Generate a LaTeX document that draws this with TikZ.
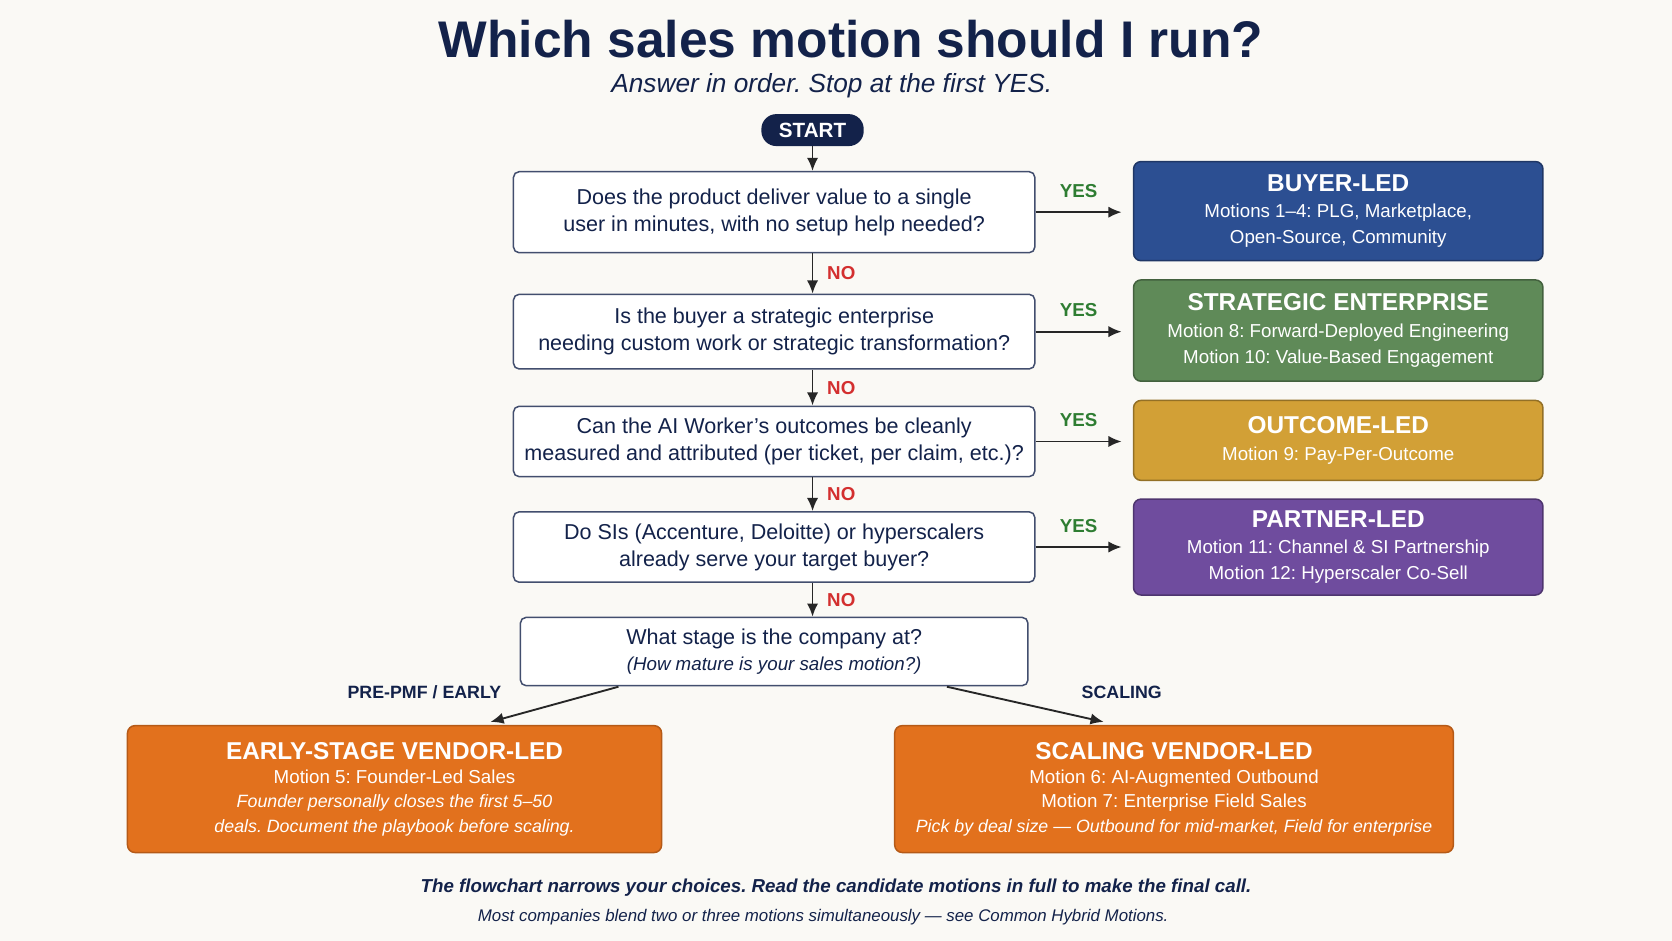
\documentclass[tikz,border=0pt]{standalone}
\usepackage{fontspec}
\setmainfont{Liberation Sans}
\usetikzlibrary{calc,positioning,arrows.meta}
\frenchspacing
\definecolor{navy}{HTML}{13224A}
\definecolor{bg}{HTML}{FAF9F5}
\definecolor{buyer}{HTML}{2C4F92}
\definecolor{strat}{HTML}{5F8A58}
\definecolor{outc}{HTML}{D2A036}
\definecolor{partner}{HTML}{6F4C9E}
\definecolor{vendor}{HTML}{E2711D}
\definecolor{yesgreen}{HTML}{2E7D32}
\definecolor{nored}{HTML}{D32F2F}
\newcommand{\rtitlefont}{\bfseries\fontsize{13}{16}\selectfont}
\tikzset{
  question/.style={draw=navy!80, thick, fill=white, rounded corners=3pt, align=center,
    minimum width=9.78cm, text=navy, font=\fontsize{11.5}{14.5}\selectfont},
  result/.style={draw=#1!70!black, thick, fill=#1, rounded corners=4pt, align=center,
    minimum width=7.68cm, text=white, font=\fontsize{10}{14}\selectfont},
  vendorbox/.style={draw=vendor!80!black, thick, fill=vendor, rounded corners=4pt, align=center,
    minimum height=2.38cm, text=white, font=\fontsize{10}{13}\selectfont},
  yes/.style={text=yesgreen, font=\bfseries\fontsize{10}{12}\selectfont},
  no/.style={text=nored, font=\bfseries\fontsize{10}{12}\selectfont},
  arr/.style={-{Latex[length=7pt,width=6pt]}, line width=1pt, black!85}
}
\begin{document}
\begin{tikzpicture}[x=0.02cm, y=-0.02cm]
        \fill[bg] (0,0) rectangle (1568,882);

        \node[text=navy, font=\bfseries\fontsize{27.5}{32}\selectfont] (title) at (798,37) {Which sales motion should I run?};
        \node[text=navy, font=\itshape\fontsize{14}{17}\selectfont] (sub) at (780,80) {Answer in order. Stop at the first YES.};

        \node[fill=navy, text=white, rounded corners=8pt, minimum width=1.92cm, minimum height=0.6cm,
              font=\bfseries\fontsize{11}{13}\selectfont] (start) at (762,122) {START};

        % questions
        \node[question, minimum height=1.52cm] (q1) at (726,199) {Does the product deliver value to a single\\ user in minutes, with no setup help needed?};
        \node[question, minimum height=1.4cm] (q2) at (726,311) {Is the buyer a strategic enterprise\\ needing custom work or strategic transformation?};
        \node[question, minimum height=1.32cm] (q3) at (726,414) {Can the AI Worker’s outcomes be cleanly\\ measured and attributed (per ticket, per claim, etc.)?};
        \node[question, minimum height=1.32cm] (q4) at (726,513) {Do SIs (Accenture, Deloitte) or hyperscalers\\ already serve your target buyer?};
        \node[question, minimum width=9.52cm, minimum height=1.28cm] (q5) at (726,611) {What stage is the company at?\\[-1pt] {\itshape\fontsize{10}{12}\selectfont (How mature is your sales motion?)}};

        % results
        \node[result=buyer, minimum height=1.86cm] (r1) at (1255,198) {{\rtitlefont BUYER-LED}\\ Motions 1–4: PLG, Marketplace,\\ Open-Source, Community};
        \node[result=strat, minimum height=1.9cm] (r2) at (1255,310) {{\rtitlefont STRATEGIC ENTERPRISE}\\ Motion 8: Forward-Deployed Engineering\\ Motion 10: Value-Based Engagement};
        \node[result=outc, minimum height=1.5cm] (r3) at (1255,413) {{\rtitlefont OUTCOME-LED}\\ Motion 9: Pay-Per-Outcome};
        \node[result=partner, minimum height=1.8cm] (r4) at (1255,513) {{\rtitlefont PARTNER-LED}\\ Motion 11: Channel \& SI Partnership\\ Motion 12: Hyperscaler Co-Sell};

        \node[vendorbox, minimum width=10.02cm] (e1) at (370,740) {{\rtitlefont EARLY-STAGE VENDOR-LED}\\ Motion 5: Founder-Led Sales\\ {\itshape\fontsize{9.5}{13}\selectfont Founder personally closes the first 5–50}\\ {\itshape\fontsize{9.5}{13}\selectfont deals. Document the playbook before scaling.}};
        \node[vendorbox, minimum width=10.48cm] (e2) at (1101,740) {{\rtitlefont SCALING VENDOR-LED}\\ Motion 6: AI-Augmented Outbound\\ Motion 7: Enterprise Field Sales\\ {\itshape\fontsize{9.5}{13}\selectfont Pick by deal size — Outbound for mid-market, Field for enterprise}};

        % spine
        \draw[arr] (start) -- (q1.north -| start);
        \draw[arr] (q1.south -| start) -- node[no, right=4pt] {NO} (q2.north -| start);
        \draw[arr] (q2.south -| start) -- node[no, right=4pt] {NO} (q3.north -| start);
        \draw[arr] (q3.south -| start) -- node[no, right=4pt] {NO} (q4.north -| start);
        \draw[arr] (q4.south -| start) -- node[no, right=4pt] {NO} (q5.north -| start);

        % yes branches
        \draw[arr] (q1.east) -- node[yes, above=4pt] {YES} ([xshift=-6]r1.west |- q1.east);
        \draw[arr] (q2.east) -- node[yes, above=4pt] {YES} ([xshift=-6]r2.west |- q2.east);
        \draw[arr] (q3.east) -- node[yes, above=4pt] {YES} ([xshift=-6]r3.west |- q3.east);
        \draw[arr] (q4.east) -- node[yes, above=4pt] {YES} ([xshift=-6]r4.west |- q4.east);

        % stage split
        \coordinate (sl) at (580,644);
        \coordinate (sr) at (888,644);
        \coordinate (el) at (460,677);
        \coordinate (er) at (1035,677);
        \draw[arr] (sl) -- (el);
        \draw[arr] (sr) -- (er);
        \node[text=navy, font=\bfseries\fontsize{9.5}{12}\selectfont] (lpre) at (398,649) {PRE-PMF / EARLY};
        \node[text=navy, font=\bfseries\fontsize{9.5}{12}\selectfont] (lscale) at (1052,649) {SCALING};

        % footer
        \node[text=navy, font=\bfseries\itshape\fontsize{10}{13}\selectfont] (foot1) at (784,832) {The flowchart narrows your choices. Read the candidate motions in full to make the final call.};
        \node[text=navy, font=\itshape\fontsize{9}{12}\selectfont] (foot2) at (772,860) {Most companies blend two or three motions simultaneously — see Common Hybrid Motions.};
    \end{tikzpicture}
\end{document}
